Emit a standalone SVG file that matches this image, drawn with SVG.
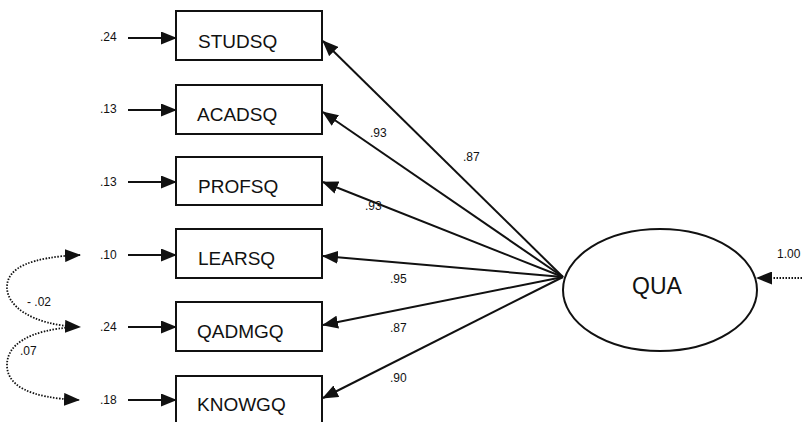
<svg xmlns="http://www.w3.org/2000/svg" width="802" height="422" viewBox="0 0 802 422">
<defs>
<marker id="ah" viewBox="0 0 16 13" refX="15" refY="6.5" markerWidth="16" markerHeight="13" markerUnits="userSpaceOnUse" orient="auto-start-reverse">
<path d="M0,0 L16,6.5 L0,13 z" fill="#111"/>
</marker>
<style>
.box{fill:#fff;stroke:#111;stroke-width:2}
.bt{font-family:"Liberation Sans",Arial,sans-serif;font-size:19px;fill:#111}
.lb{font-family:"Liberation Sans",Arial,sans-serif;font-size:12px;fill:#111}
.ln{stroke:#111;stroke-width:2;fill:none;marker-end:url(#ah)}
.dt{stroke:#111;stroke-width:1.8;fill:none;stroke-dasharray:1.5 1.5}
</style>
</defs>
<rect width="802" height="422" fill="#fff"/>

<g id="connectors">
<path class="ln" d="M563,277 L323,41"/>
<path class="ln" d="M563,277 L323,112"/>
<path class="ln" d="M563,277 L323,182"/>
<path class="ln" d="M563,277 L323,256"/>
<path class="ln" d="M563,277 L323,325"/>
<path class="ln" d="M563,277 L323,398"/>
<path class="ln" d="M128,38 L176,38"/>
<path class="ln" d="M128,110 L176,110"/>
<path class="ln" d="M128,182 L176,182"/>
<path class="ln" d="M128,255 L176,255"/>
<path class="ln" d="M128,327 L176,327"/>
<path class="ln" d="M128,400 L176,400"/>
<path class="dt" style="marker-start:url(#ah);marker-end:url(#ah)" d="M80,255 C30,257 8,268 7,286 C6,305 30,325 80,327"/>
<path class="dt" style="marker-end:url(#ah)" d="M75,327 C28,330 7,345 7,365 C7,385 28,398 79,400"/>
<path class="dt" style="marker-end:url(#ah)" d="M802,278 L757,278"/>
<text class="lb" x="463" y="161">.87</text>
<text class="lb" x="370" y="137">.93</text>
<text class="lb" x="365" y="210">.93</text>
<text class="lb" x="390" y="283">.95</text>
<text class="lb" x="390" y="332">.87</text>
<text class="lb" x="390" y="382">.90</text>
<text class="lb" x="100" y="41">.24</text>
<text class="lb" x="100" y="113">.13</text>
<text class="lb" x="100" y="186">.13</text>
<text class="lb" x="100" y="259">.10</text>
<text class="lb" x="100" y="331">.24</text>
<text class="lb" x="100" y="404">.18</text>
<text class="lb" x="27" y="306">- .02</text>
<text class="lb" x="20" y="355">.07</text>
<text class="lb" x="777" y="258">1.00</text>
</g>

<g id="STUDSQ"><rect class="box" x="176" y="11" width="146" height="49"/><text class="bt" x="198" y="48">STUDSQ</text></g>
<g id="ACADSQ"><rect class="box" x="176" y="85" width="146" height="49"/><text class="bt" x="197" y="121">ACADSQ</text></g>
<g id="PROFSQ"><rect class="box" x="176" y="157" width="146" height="48"/><text class="bt" x="198" y="193">PROFSQ</text></g>
<g id="LEARSQ"><rect class="box" x="176" y="229" width="146" height="49"/><text class="bt" x="198" y="265">LEARSQ</text></g>
<g id="QADMGQ"><rect class="box" x="176" y="302" width="146" height="49"/><text class="bt" x="197" y="338">QADMGQ</text></g>
<g id="KNOWGQ"><rect class="box" x="176" y="376" width="146" height="60"/><text class="bt" x="197" y="411">KNOWGQ</text></g>
<g id="QUA"><ellipse cx="660" cy="290" rx="97" ry="61" fill="#fff" stroke="#111" stroke-width="2"/><text x="632" y="294" font-family="'Liberation Sans',Arial,sans-serif" font-size="23" fill="#111">QUA</text></g>
</svg>
